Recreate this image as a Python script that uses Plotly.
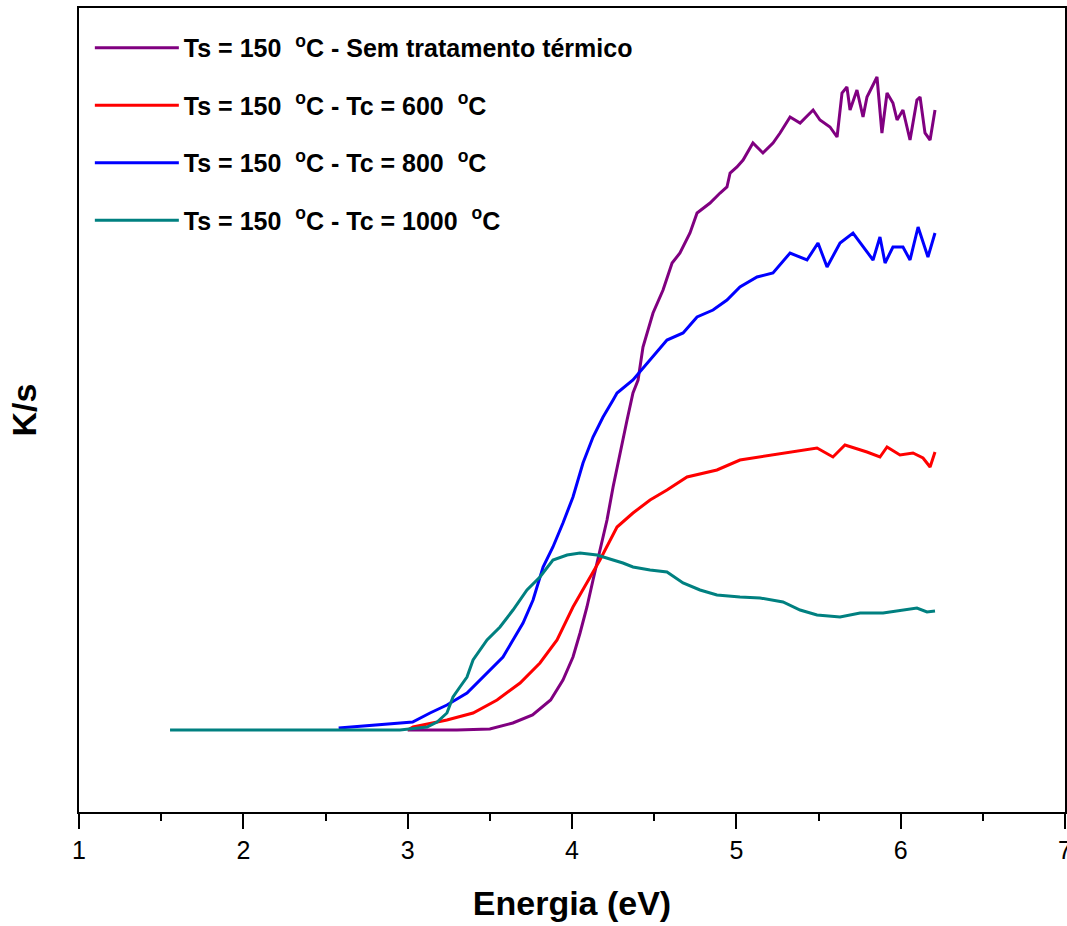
import plotly.graph_objects as go

# Energia (eV) and K/s (arbitrary units)
x_sem = [3.00, 3.30, 3.50, 3.64, 3.76, 3.87, 3.945, 4.006, 4.049, 4.091, 4.128, 4.170, 4.213, 4.250,
         4.292, 4.335, 4.371, 4.402, 4.432, 4.493, 4.554, 4.609, 4.657, 4.718, 4.761, 4.840, 4.901,
         4.943, 4.962, 5.004, 5.041, 5.101, 5.162, 5.223, 5.266, 5.327, 5.388, 5.467, 5.509, 5.570,
         5.613, 5.643, 5.673, 5.692, 5.734, 5.771, 5.795, 5.856, 5.886, 5.917, 5.953, 5.978, 6.014,
         6.057, 6.099, 6.118, 6.148, 6.179, 6.209]
y_sem = [0.00, 0.00, 0.01, 0.07, 0.15, 0.30, 0.50, 0.73, 0.97, 1.23, 1.50, 1.80, 2.10, 2.43,
         2.77, 3.10, 3.37, 3.50, 3.83, 4.17, 4.40, 4.67, 4.77, 4.97, 5.17, 5.27, 5.37,
         5.43, 5.57, 5.63, 5.70, 5.87, 5.77, 5.87, 5.97, 6.13, 6.07, 6.20, 6.10, 6.03,
         5.93, 6.37, 6.43, 6.20, 6.40, 6.13, 6.33, 6.53, 5.97, 6.37, 6.27, 6.10, 6.20,
         5.90, 6.30, 6.33, 5.97, 5.90, 6.20]

x_600 = [3.00, 3.033, 3.239, 3.398, 3.544, 3.684, 3.805, 3.909, 4.006, 4.091, 4.170, 4.274, 4.371,
         4.475, 4.578, 4.700, 4.882, 5.022, 5.144, 5.345, 5.491, 5.588, 5.661, 5.795, 5.874, 5.917,
         5.996, 6.075, 6.136, 6.179, 6.209]
y_600 = [0.00, 0.03, 0.10, 0.17, 0.30, 0.47, 0.67, 0.90, 1.23, 1.47, 1.70, 2.03, 2.17,
         2.30, 2.40, 2.53, 2.60, 2.70, 2.73, 2.78, 2.82, 2.73, 2.85, 2.78, 2.73, 2.83,
         2.75, 2.77, 2.72, 2.63, 2.78]

x_800 = [2.58, 2.83, 3.03, 3.136, 3.239, 3.361, 3.483, 3.580, 3.641, 3.702, 3.763, 3.824, 3.884,
         3.945, 4.006, 4.067, 4.128, 4.189, 4.250, 4.274, 4.371, 4.475, 4.578, 4.676, 4.761, 4.858,
         4.943, 5.022, 5.126, 5.223, 5.327, 5.430, 5.497, 5.552, 5.631, 5.710, 5.771, 5.832, 5.874,
         5.905, 5.953, 6.014, 6.057, 6.106, 6.166, 6.209]
y_800 = [0.02, 0.05, 0.08, 0.17, 0.25, 0.37, 0.57, 0.73, 0.90, 1.07, 1.30, 1.63, 1.83,
         2.07, 2.33, 2.67, 2.93, 3.13, 3.30, 3.37, 3.50, 3.70, 3.90, 3.97, 4.13, 4.20,
         4.30, 4.43, 4.53, 4.57, 4.77, 4.70, 4.87, 4.63, 4.87, 4.97, 4.83, 4.70, 4.93,
         4.67, 4.83, 4.83, 4.70, 5.03, 4.73, 4.97]

x_1000 = [1.554, 2.953, 3.118, 3.179, 3.239, 3.276, 3.318, 3.361, 3.398, 3.483, 3.562, 3.641, 3.726,
          3.805, 3.884, 3.970, 4.049, 4.152, 4.250, 4.310, 4.371, 4.475, 4.578, 4.676, 4.779, 4.882,
          5.022, 5.144, 5.284, 5.388, 5.491, 5.631, 5.753, 5.893, 6.099, 6.160, 6.209]
y_1000 = [0.00, 0.00, 0.03, 0.08, 0.17, 0.33, 0.43, 0.53, 0.70, 0.90, 1.03, 1.20, 1.40,
          1.53, 1.70, 1.75, 1.77, 1.75, 1.70, 1.67, 1.63, 1.60, 1.58, 1.47, 1.40, 1.35,
          1.33, 1.32, 1.28, 1.20, 1.15, 1.13, 1.17, 1.17, 1.22, 1.18, 1.19]

names = [
    "Ts = 150 &nbsp;<sup>o</sup>C - Sem tratamento térmico",
    "Ts = 150 &nbsp;<sup>o</sup>C - Tc = 600 &nbsp;<sup>o</sup>C",
    "Ts = 150 &nbsp;<sup>o</sup>C - Tc = 800 &nbsp;<sup>o</sup>C",
    "Ts = 150 &nbsp;<sup>o</sup>C - Tc = 1000 &nbsp;<sup>o</sup>C",
]
colors = ["#800080", "#FF0000", "#0000FF", "#008080"]
series = [(x_sem, y_sem), (x_600, y_600), (x_800, y_800), (x_1000, y_1000)]

fig = go.Figure()
for i, ((xs, ys), nm, col) in enumerate(zip(series, names, colors)):
    fig.add_trace(go.Scatter(x=xs, y=ys, mode="lines", name=nm, legendgroup=f"g{i}",
                             line=dict(color=col, width=3, shape="linear")))

font_fam = "Liberation Sans, Arial, sans-serif"
fig.update_layout(
    width=1067, height=926,
    margin=dict(l=79, r=2, t=8, b=114),
    paper_bgcolor="white", plot_bgcolor="white",
    font=dict(family=font_fam, color="black"),
    showlegend=True,
    legend=dict(
        x=0.011, y=0.979, xanchor="left", yanchor="top",
        bgcolor="rgba(0,0,0,0)", borderwidth=0,
        font=dict(family=font_fam, size=25, color="black", weight="bold"),
        itemwidth=84, tracegroupgap=22,
    ),
    xaxis=dict(
        range=[1, 7], showgrid=False, zeroline=False, automargin=False,
        showline=True, linecolor="black", linewidth=2, mirror=True,
        ticks="outside", ticklen=15, tickwidth=2, tickcolor="black",
        tickvals=[1, 2, 3, 4, 5, 6, 7], ticklabeloverflow="allow",
        tickfont=dict(size=25, family=font_fam, color="black"),
        minor=dict(ticks="outside", ticklen=7, tickwidth=2, tickcolor="black", dtick=0.5),
        title=dict(text="Energia (eV)", font=dict(size=34, family=font_fam, weight="bold"), standoff=28),
    ),
    yaxis=dict(
        range=[-0.82, 7.22], showgrid=False, zeroline=False, automargin=False,
        showline=True, linecolor="black", linewidth=2, mirror=True,
        ticks="", showticklabels=False,
        title=dict(text="K/s", font=dict(size=34, family=font_fam, weight="bold"), standoff=30),
    ),
)

fig.write_html("out.html")
